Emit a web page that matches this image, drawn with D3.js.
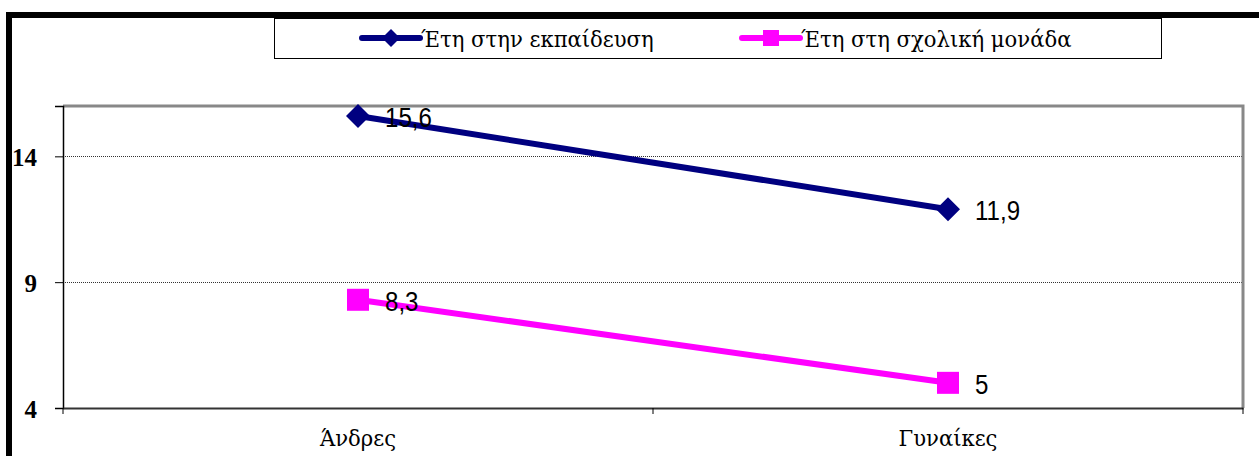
<!DOCTYPE html>
<html><head><meta charset="utf-8">
<script src="https://cdn.jsdelivr.net/npm/d3@7/dist/d3.min.js"></script>
<style>body{margin:0;background:#fff;}svg{display:block;}</style>
</head><body>
<svg id="c" width="1259" height="456"></svg>
<script>
const categories = ["Άνδρες", "Γυναίκες"];
const seriesNames = ["Έτη στην εκπαίδευση", "Έτη στη σχολική μονάδα"];
const educationYears = [15.6, 11.9];
const schoolYears = [8.3, 5];
const yTicks = [4, 9, 14];
const valueLabels = [["15,6", "11,9"], ["8,3", "5"]];

const svg = d3.select("#c");
const plot = {l: 63, t: 106, r: 1243, b: 408};
const colors = ["#000080", "#FF00FF"];
const serif = "'Liberation Serif', 'Times New Roman', serif";
const greekSerif = "'DejaVu Serif', 'Liberation Serif', serif";
const sans = "'Liberation Sans', Arial, sans-serif";

// outer border
svg.append("rect").attr("x", 9).attr("y", 15).attr("width", 1400).attr("height", 600)
  .attr("fill", "none").attr("stroke", "#000").attr("stroke-width", 6);

const x = d3.scaleBand().domain(categories).range([plot.l, plot.r]);
const y = d3.scaleLinear().domain([4, 16]).range([plot.b, plot.t]);

// gridlines
svg.append("g").selectAll("line").data(yTicks.filter(d => d > 4)).join("line")
  .attr("x1", plot.l).attr("x2", plot.r)
  .attr("y1", d => Math.round(y(d)) + 0.5).attr("y2", d => Math.round(y(d)) + 0.5)
  .attr("stroke", "#333").attr("stroke-width", 1).attr("stroke-dasharray", "1,1");

// plot border top/right gray
svg.append("path").attr("d", `M${plot.l},${plot.t}H${plot.r}V${plot.b}`)
  .attr("fill", "none").attr("stroke", "#888").attr("stroke-width", 3);

// y axis
const yAxis = d3.axisLeft(y).tickValues(yTicks).tickSize(8).tickFormat(d3.format("d"));
const gy = svg.append("g").attr("transform", `translate(${plot.l},0)`).call(yAxis);
gy.select(".domain").attr("stroke", "#000").attr("stroke-width", 1.5);
gy.selectAll(".tick line").attr("stroke", "#000");
gy.selectAll(".tick text").attr("x", -26).attr("dy", "0.36em").attr("font-family", serif)
  .attr("font-weight", "bold").attr("font-size", 25).attr("fill", "#000");

// x axis
const xAxis = d3.axisBottom(x).tickSize(0);
const gx = svg.append("g").attr("transform", `translate(0,${plot.b})`).call(xAxis);
gx.select(".domain").attr("stroke", "#333").attr("stroke-width", 2);
gx.selectAll(".tick text").attr("y", 0).attr("dy", 0).attr("transform", "translate(0,38) scale(0.92,1)")
  .attr("font-family", greekSerif).attr("font-size", 23).attr("fill", "#000");
// x tick marks at band boundaries
const bounds = [plot.l, plot.l + x.bandwidth(), plot.r];
svg.append("g").selectAll("line").data(bounds).join("line")
  .attr("x1", d => d).attr("x2", d => d).attr("y1", plot.b).attr("y2", plot.b + 6)
  .attr("stroke", "#000").attr("stroke-width", 1);

const cx = c => x(c) + x.bandwidth() / 2;
const line = d3.line().x((d, i) => cx(categories[i])).y(d => y(d));
const series = [educationYears, schoolYears];

series.forEach((s, si) => {
  svg.append("path").datum(s).attr("d", line).attr("fill", "none")
    .attr("stroke", colors[si]).attr("stroke-width", 6);
  const g = svg.append("g");
  s.forEach((v, i) => {
    const px = cx(categories[i]), py = y(v);
    if (si === 0) {
      g.append("path").attr("d", `M${px - 12},${py}L${px},${py - 12}L${px + 12},${py}L${px},${py + 12}Z`)
        .attr("fill", colors[si]);
    } else {
      g.append("rect").attr("x", px - 11).attr("y", py - 11).attr("width", 22).attr("height", 22)
        .attr("fill", colors[si]);
    }
    g.append("text").attr("transform", `translate(${px + 27},${py + 11}) scale(0.86,1)`)
      .attr("font-family", sans).attr("font-size", 28).attr("fill", "#000")
      .text(valueLabels[si][i]);
  });
});

// legend
svg.append("rect").attr("x", 274.5).attr("y", 18.5).attr("width", 887).attr("height", 40)
  .attr("fill", "#fff").attr("stroke", "#000").attr("stroke-width", 1);
const legX = [362, 742];
seriesNames.forEach((n, si) => {
  const lx = legX[si], ly = 38;
  svg.append("line").attr("x1", lx).attr("x2", lx + 58).attr("y1", ly).attr("y2", ly)
    .attr("stroke", colors[si]).attr("stroke-width", 6).attr("stroke-linecap", "round");
  const mx = lx + 29;
  if (si === 0) {
    svg.append("path").attr("d", `M${mx - 9},${ly}L${mx},${ly - 9}L${mx + 9},${ly}L${mx},${ly + 9}Z`).attr("fill", colors[si]);
  } else {
    svg.append("rect").attr("x", mx - 8).attr("y", ly - 8).attr("width", 16).attr("height", 16).attr("fill", colors[si]);
  }
  svg.append("text").attr("transform", `translate(${lx + 59},${ly + 9}) scale(0.92,1)`)
    .attr("font-family", greekSerif).attr("font-size", 23).attr("fill", "#000")
    .text(n);
});
</script>
</body></html>
